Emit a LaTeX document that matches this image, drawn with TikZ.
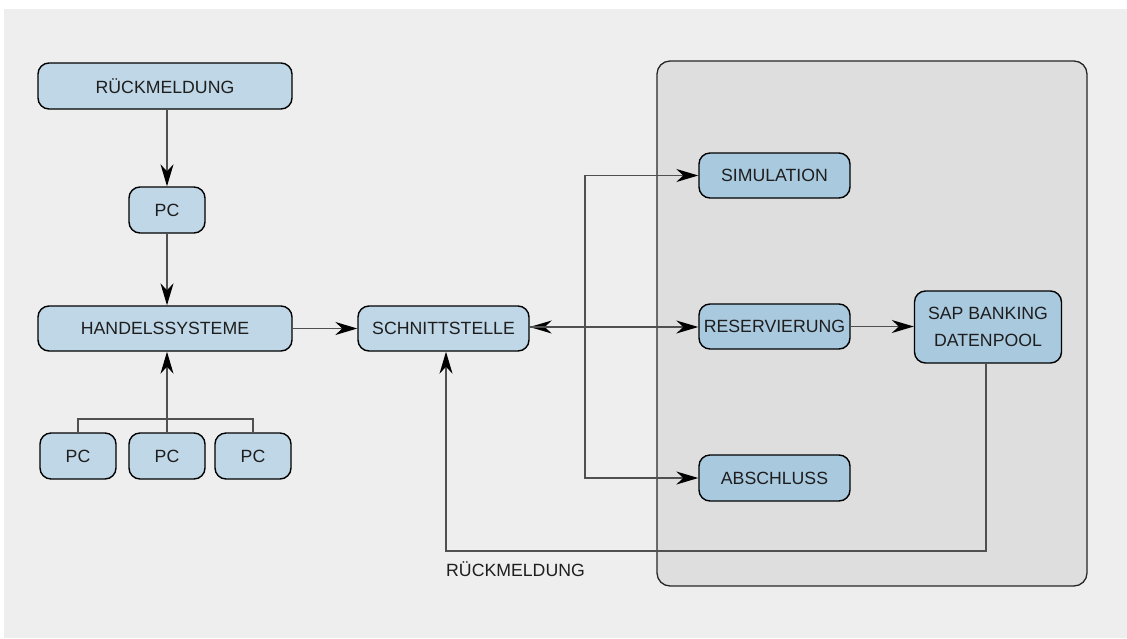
\documentclass[tikz,border=0pt]{standalone}
\usepackage{fontspec}
\setmainfont{Liberation Sans}
\usetikzlibrary{arrows.meta}
\definecolor{bgc}{HTML}{EEEEEE}
\definecolor{panelc}{HTML}{DEDEDE}
\definecolor{boxl}{HTML}{BFD7E7}
\definecolor{boxr}{HTML}{A9C9DF}
\definecolor{linec}{HTML}{505050}
\definecolor{txtc}{HTML}{1E1E1E}
\tikzset{
  base/.style={draw=black, line width=1.4pt, rounded corners=11pt, inner sep=0pt,
    text=txtc, font=\fontsize{17.7}{27}\selectfont, align=center},
  boxleft/.style={base, fill=boxl},
  boxright/.style={base, fill=boxr},
  conn/.style={draw=linec, line width=1.4pt,
    -{Stealth[length=22pt,width=13pt,inset=7pt,color=black]}},
  plain/.style={draw=linec, line width=1.4pt},
}
\begin{document}
\begin{tikzpicture}[x=1pt,y=-1pt]
\useasboundingbox (0,0) rectangle (1127,638);
\fill[bgc] (4,9) rectangle (1127,638);
% panel
\draw[fill=panelc, draw=black!85, line width=1.3pt, rounded corners=13pt] (657,61) rectangle (1087,586);
% nodes
\node[boxleft, minimum width=254pt, minimum height=46pt] (rm) at (165,86) {RÜCKMELDUNG};
\node[boxleft, minimum width=76pt, minimum height=46pt] (pc0) at (167,210) {PC};
\node[boxleft, minimum width=254pt, minimum height=45pt] (hs) at (165,328.5) {HANDELSSYSTEME};
\node[boxleft, minimum width=76pt, minimum height=46pt] (pc1) at (78,456) {PC};
\node[boxleft, minimum width=76pt, minimum height=46pt] (pc2) at (167,456) {PC};
\node[boxleft, minimum width=76pt, minimum height=46pt] (pc3) at (253,456) {PC};
\node[boxleft, minimum width=171pt, minimum height=45pt] (sst) at (443.5,328.5) {SCHNITTSTELLE};
\node[boxright, minimum width=151pt, minimum height=45pt] (sim) at (774.5,175.5) {SIMULATION};
\node[boxright, minimum width=151pt, minimum height=45pt] (res) at (774.5,326.5) {RESERVIERUNG};
\node[boxright, minimum width=151pt, minimum height=46pt] (abs) at (774.5,478) {ABSCHLUSS};
\node[boxright, minimum width=147pt, minimum height=72pt] (sap) at (988,327) {SAP BANKING\\DATENPOOL};
\node[anchor=west, inner sep=0pt, text=txtc, font=\fontsize{17.7}{27}\selectfont] (lbl) at (446,569) {RÜCKMELDUNG};
% connectors
\draw[conn] (rm.south -| pc0) -- (pc0.north);
\draw[conn] (pc0.south) -- (pc0.south |- hs.north);
\draw[conn] (pc2.north) -- (pc2.north |- hs.south);
\coordinate (bus) at (167,419);
\draw[plain] (pc1.north) |- (bus) -| (pc3.north);
\draw[conn] (hs) -- (sst);
\coordinate (jn) at (585,327);
\draw[conn] (jn) -- (sst.east |- jn);
\draw[conn] (sst.east |- jn) -- (res.west |- jn);
\draw[conn] (jn) |- (sim.west);
\draw[conn] (jn) |- (abs.west);
\draw[conn] (res) -- (sap.west |- res);
\coordinate (fb) at (446,551);
\draw[conn] (sap.south -| 986,0) |- (fb) -- (fb |- sst.south);
\end{tikzpicture}
\end{document}
